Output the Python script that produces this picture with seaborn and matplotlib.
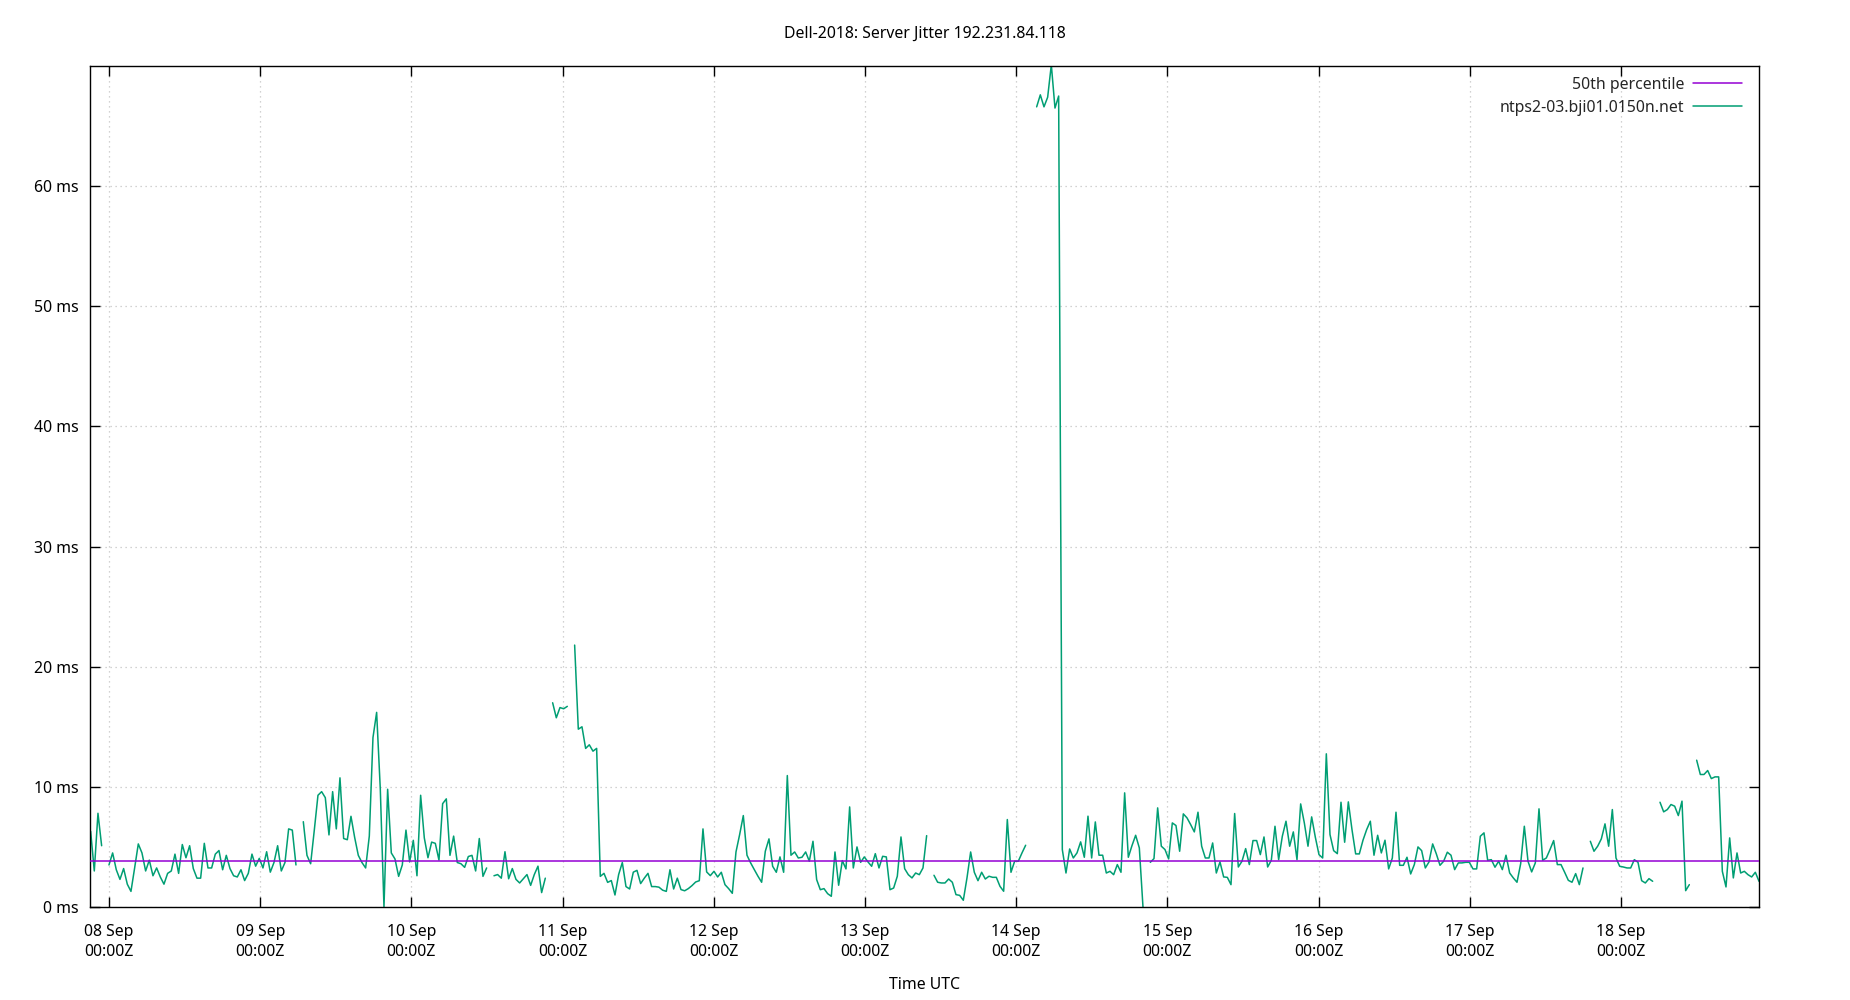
import numpy as np
import pandas as pd
import matplotlib
matplotlib.use("Agg")
import matplotlib.pyplot as plt
import matplotlib.dates as mdates
from matplotlib.lines import Line2D
import seaborn as sns

nan = np.nan

title = "Dell-2018: Server Jitter 192.231.84.118"
series_name = "ntps2-03.bji01.0150n.net"
median_name = "50th percentile"
x_label = "Time UTC"

start_time = "2018-09-07 21:05"
end_time = "2018-09-18 21:54"
view_start = "2018-09-07 20:59"
view_end = "2018-09-18 21:54"

median_ms = 3.85

jitter_sep08_09 = [
    6.3, 3.0, 7.8, 5.1, nan, 3.5, 4.5, 3.1, 2.3,
    3.2, 1.9, 1.3, 3.25, 5.25, 4.5, 3.0, 3.9, 2.6, 3.25,
    2.5, 1.9, 2.8, 3.0, 4.4, 2.8, 5.2, 4.1, 5.1, 3.2,
    2.4, 2.4, 5.3, 3.25, 3.25, 4.4, 4.7, 3.1, 4.3, 3.2,
    2.6, 2.5, 3.1, 2.2, 2.8, 4.4, 3.4, 4.05, 3.25, 4.6,
    2.9, 3.7, 5.1, 3.0, 3.7, 6.5, 6.4, 3.5, nan, 7.1,
    4.3, 3.6, 6.4, 9.3, 9.6, 9.1, 6.0, 9.6, 6.5, 10.75,
    5.7, 5.6, 7.55, 5.8, 4.3, 3.7, 3.25, 5.9, 14.1, 16.2,
    9.8, 0.0, 9.8, 4.5,
]
jitter_sep10_11 = [
    4.0, 2.55, 3.5, 6.4, 3.75, 5.55, 2.6, 9.3, 5.75, 4.1,
    5.4, 5.3, 3.9, 8.6, 9.0, 4.3, 5.9, 3.7, 3.6, 3.3,
    4.2, 4.3, 3.0, 5.7, 2.55, 3.25, nan, 2.6, 2.7, 2.4,
    4.6, 2.35, 3.2, 2.3, 2.0, 2.35, 2.7, 1.8, 2.7, 3.4,
    1.2, 2.4, nan, 17.0, 15.75, 16.6, 16.5, 16.7, nan, 21.8,
    14.8, 15.0, 13.2, 13.5, 12.97, 13.2, 2.55, 2.8, 2.05, 2.2,
    1.0, 2.7, 3.7, 1.7, 1.5, 2.9, 3.05, 1.95, 2.4, 2.8,
    1.7, 1.7, 1.65, 1.4, 1.3, 3.1, 1.5, 2.4, 1.45, 1.35,
]
jitter_sep12_13 = [
    1.53, 1.78, 2.08, 2.19, 6.5, 2.92, 2.61, 2.97, 2.5, 2.89,
    1.86, 1.53, 1.14, 4.58, 6.03, 7.61, 4.31, 3.67, 3.11, 2.56,
    2.06, 4.64, 5.67, 3.39, 2.89, 4.17, 2.89, 10.94, 4.31, 4.58,
    4.08, 4.14, 4.58, 3.81, 5.47, 2.28, 1.44, 1.53, 1.11, 0.89,
    4.58, 1.81, 3.86, 3.17, 8.33, 3.25, 5.0, 3.72, 4.17, 3.75,
    3.39, 4.44, 3.25, 4.22, 4.17, 1.44, 1.58, 2.56, 5.83, 3.19,
    2.69, 2.42, 2.83, 2.69, 3.25, 5.94, nan, 2.64, 2.06, 2.0,
    2.0, 2.33, 2.06, 1.03, 0.97, 0.56, 2.42, 4.58, 2.89, 2.19,
]
jitter_sep14_15 = [
    2.89, 2.33, 2.56, 2.47, 2.47, 1.72, 1.31, 7.28, 2.89, 3.81,
    3.81, 4.5, 5.14, nan, nan, 66.6, 67.6, 66.6, 67.4, 70.1,
    66.5, 67.5, 4.78, 2.83, 4.83, 4.08, 4.5, 5.42, 4.14, 7.56,
    4.08, 7.08, 4.31, 4.31, 2.83, 2.97, 2.69, 3.53, 2.89, 9.5,
    4.14, 5.11, 5.97, 4.92, 0.0, nan, 3.72, 4.03, 8.25, 5.06,
    4.78, 4.0, 7.0, 6.78, 4.64, 7.75, 7.42, 6.86, 6.25, 7.89,
    5.06, 4.08, 4.08, 5.33, 2.83, 3.75, 2.5, 2.47, 1.86, 7.78,
    3.33, 3.81, 4.86, 3.53, 5.53, 5.53, 4.36, 5.83, 3.33, 3.89,
    6.72,
]
jitter_sep16_17 = [
    3.94, 5.89, 7.14, 5.06, 6.25, 3.94, 8.58, 7.0, 5.06, 7.5,
    5.81, 4.36, 4.08, 12.75, 6.03, 4.69, 4.44, 8.72, 5.39, 8.75,
    6.44, 4.42, 4.42, 5.56, 6.44, 7.14, 4.31, 5.97, 4.5, 5.56,
    3.17, 4.08, 7.89, 3.47, 3.47, 4.14, 2.75, 3.53, 5.0, 4.69,
    3.25, 3.75, 5.25, 4.42, 3.47, 3.81, 4.56, 4.31, 3.11, 3.67,
    3.67, 3.72, 3.72, 3.17, 3.17, 5.89, 6.17, 3.89, 3.94, 3.31,
    3.81, 3.11, 4.31, 2.83, 2.42, 2.06, 3.6, 6.72, 3.81, 2.92,
    3.67, 8.17, 3.89, 4.08, 4.78, 5.53, 3.53, 3.53, 2.89, 2.22,
    2.06,
]
jitter_sep18 = [
    2.78, 1.86, 3.25, nan, 5.47, 4.64, 5.06, 5.67, 6.92, 5.06,
    8.11, 4.08, 3.39, 3.33, 3.25, 3.25, 3.94, 3.72, 2.19, 2.0,
    2.36, 2.14, nan, 8.72, 7.92, 8.11, 8.53, 8.39, 7.61, 8.81,
    1.36, 1.86, nan, 12.22, 11.03, 11.03, 11.36, 10.69, 10.83, 10.83,
    2.97, 1.67, 5.75, 2.42, 4.5, 2.83, 2.97, 2.69, 2.5, 2.89,
    2.14,
]

y_ticks = [0, 10, 20, 30, 40, 50, 60]
y_max = 70
day_ticks = ["2018-09-%02d" % d for d in range(8, 19)]

# ---------------------------------------------------------------
values = (jitter_sep08_09 + jitter_sep10_11 + jitter_sep12_13
          + jitter_sep14_15 + jitter_sep16_17 + jitter_sep18)
times = pd.date_range(start_time, end_time, periods=len(values))
df = pd.DataFrame({"time": times, "jitter": values})
df["segment"] = df["jitter"].isna().cumsum()
df = df.dropna()

sns.set_theme(style="white")
plt.rcParams["font.family"] = ["Noto Sans", "DejaVu Sans"]
FS = 11.4
plt.rcParams["font.size"] = FS

GREEN = "#009e73"
PURPLE = "#9400d3"

fig = plt.figure(figsize=(18.5, 10), dpi=100)
ax_w = (1759 - 90) / 1850
ax_h = (907 - 66) / 1000
ax = fig.add_axes([90 / 1850, 1 - 907 / 1000, ax_w, ax_h])

ax.axhline(median_ms, color=PURPLE, lw=1.1, zorder=3)
sns.lineplot(data=df, x="time", y="jitter", units="segment", estimator=None,
             sort=False, color=GREEN, lw=1.1, ax=ax, zorder=2)

ax.set_xlim(pd.Timestamp(view_start), pd.Timestamp(view_end))
ax.set_ylim(0, y_max)
ax.set_yticks(y_ticks)
ax.set_yticklabels([f"{v} ms" for v in y_ticks])
ax.set_xticks([pd.Timestamp(d) for d in day_ticks])
ax.xaxis.set_major_formatter(mdates.DateFormatter("%d %b\n%H:%MZ"))

for lab in ax.get_xticklabels():
    lab.set_linespacing(1.4)

ax.grid(True, color="#c4c4c4", linestyle=(0, (1, 3)), linewidth=0.9)
ax.tick_params(axis="both", direction="in", length=7, width=1.0, color="black",
               labelsize=FS, labelcolor="black", top=True, right=True,
               bottom=True, left=True)
ax.tick_params(axis="y", pad=8)
ax.tick_params(axis="x", pad=12)
for s in ax.spines.values():
    s.set_color("black")
    s.set_linewidth(1.0)
    s.set_visible(True)

ax.set_xlabel(x_label, fontsize=FS, labelpad=12, color="black")
ax.set_ylabel("")
ax.set_title(title, fontsize=FS, pad=20, color="black")

handles = [Line2D([], [], color=PURPLE, lw=1.1),
           Line2D([], [], color=GREEN, lw=1.1)]
leg = ax.legend(handles, [median_name, series_name], loc="upper right",
                bbox_to_anchor=(1 - 17 / 1669, 1 - 11 / 841),
                frameon=False, markerfirst=False, fontsize=FS,
                handlelength=3.1, handletextpad=0.57, labelspacing=0.43,
                borderaxespad=0.0, borderpad=0.0)

fig.savefig("out.png", dpi=100, facecolor="white")
